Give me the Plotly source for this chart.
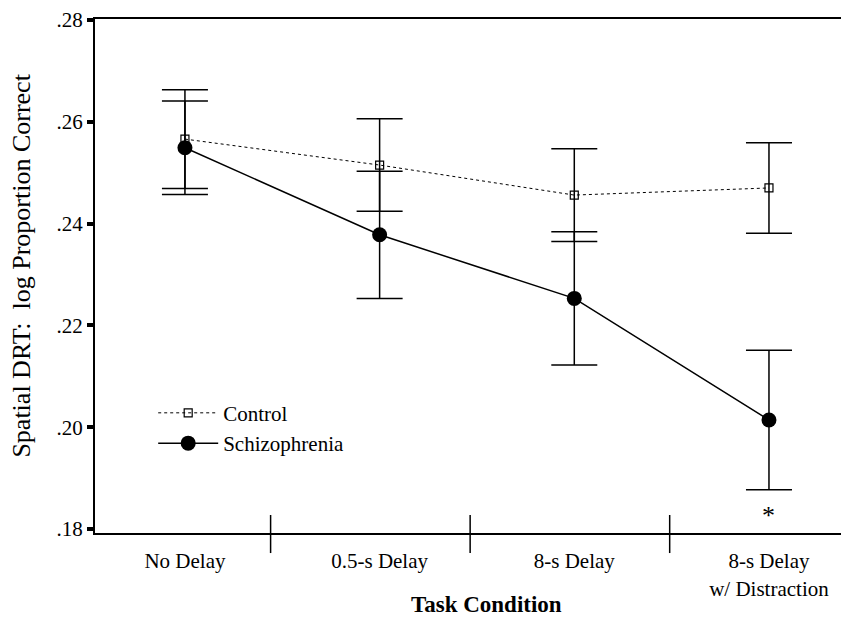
import plotly.graph_objects as go

# ---- data ----
categories = ["No Delay", "0.5-s Delay", "8-s Delay", "8-s Delay<br>w/ Distraction"]
control_mean = [0.2566, 0.2515, 0.2456, 0.2470]
control_err = [0.0097, 0.0091, 0.0091, 0.0089]
schiz_mean = [0.2549, 0.2378, 0.2253, 0.2014]
schiz_err = [0.0092, 0.0125, 0.0131, 0.0137]
y_ticks = [0.18, 0.20, 0.22, 0.24, 0.26, 0.28]
y_tick_labels = [".18", ".20", ".22", ".24", ".26", ".28"]
divider_pos = [0.44, 1.465, 2.49]

xpos = list(range(len(categories)))
FONT = "Liberation Serif, Times New Roman, serif"

fig = go.Figure()
fig.add_trace(go.Scatter(
    x=xpos, y=control_mean, name="Control", mode="lines+markers",
    line=dict(color="black", width=1, dash="dot"),
    marker=dict(symbol="square-open", size=8, color="black", line=dict(width=1.2)),
    error_y=dict(type="data", array=control_err, visible=True,
                 color="black", thickness=1.5, width=23),
))
fig.add_trace(go.Scatter(
    x=xpos, y=schiz_mean, name="Schizophrenia", mode="lines+markers",
    line=dict(color="black", width=1.5),
    marker=dict(symbol="circle", size=15, color="black"),
    error_y=dict(type="data", array=schiz_err, visible=True,
                 color="black", thickness=1.5, width=23),
))

shapes = [dict(type="line", xref="x", yref="paper", x0=d, x1=d, y0=-0.039, y1=0.035,
               line=dict(color="black", width=1.5)) for d in divider_pos]

fig.update_layout(
    width=841, height=617,
    margin=dict(l=95, r=0, t=19, b=84),
    paper_bgcolor="white", plot_bgcolor="white",
    font=dict(family=FONT, size=21, color="black"),
    showlegend=True,
    legend=dict(x=0.078, y=0.273, xanchor="left", yanchor="top",
                bgcolor="rgba(0,0,0,0)", font=dict(family=FONT, size=21),
                itemwidth=60, tracegroupgap=0),
    xaxis=dict(range=[-0.462, 3.37], tickvals=xpos, ticktext=categories,
               showgrid=False, zeroline=False, showline=True, linecolor="black",
               linewidth=2, mirror=True, ticks="", ticklabelstandoff=8,
               tickfont=dict(family=FONT, size=21)),
    yaxis=dict(range=[0.1792, 0.2802], tickvals=y_ticks, ticktext=y_tick_labels,
               showgrid=False, zeroline=False, showline=True, linecolor="black",
               linewidth=2, ticks="outside", ticklen=6, tickwidth=4, tickcolor="black",
               tickfont=dict(family=FONT, size=21)),
    shapes=shapes,
    annotations=[
        dict(text="<b>Task Condition</b>", xref="paper", yref="paper", x=0.525, y=-0.14,
             xanchor="center", yanchor="middle", showarrow=False,
             font=dict(family=FONT, size=23)),
        dict(text="Spatial DRT:  log Proportion Correct", xref="paper", yref="paper",
             x=-0.098, y=0.52, xanchor="center", yanchor="middle", textangle=-90,
             showarrow=False, font=dict(family=FONT, size=26)),
        dict(text="*", xref="x", yref="y", x=3, y=0.1827, xanchor="center",
             yanchor="middle", showarrow=False, font=dict(family=FONT, size=26)),
    ],
)

fig.write_html("out.html", config={"displayModeBar": False},
               post_script="document.body.style.margin='0';")
